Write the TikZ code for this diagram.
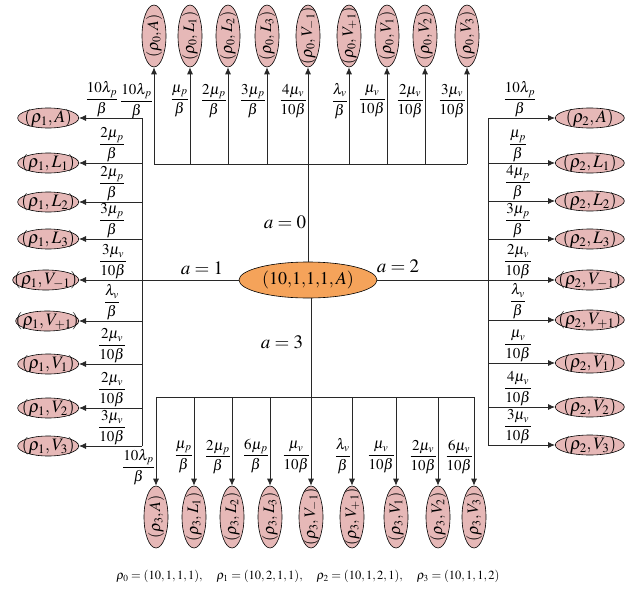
\documentclass[tikz,border=0pt]{standalone}
\usepackage{amsmath}
\usepackage{mathptmx}
\usetikzlibrary{arrows.meta,shapes.geometric}
\definecolor{pinkfill}{RGB}{230,184,183}
\definecolor{orangefill}{RGB}{245,163,90}
\definecolor{linec}{RGB}{40,40,40}
\newcommand{\ztext}[1]{\makebox[0pt]{\raisebox{\dimexpr(\depth-\height)/2\relax}[0pt][0pt]{#1}}}
\newcommand{\vlab}[1]{\ztext{\rotatebox{90}{$#1$}}}
\newcommand{\hlab}[1]{\ztext{$#1$}}
\begin{document}
\begin{tikzpicture}[x=1pt,y=-1pt,
  st/.style={ellipse,draw=black,line width=0.6pt,fill=pinkfill,inner sep=0pt},
  vst/.style={st,minimum width=24pt,minimum height=62pt,font=\fontsize{16}{18}\selectfont},
  hst/.style={st,minimum height=20pt,font=\fontsize{17.5}{20}\selectfont},
  link/.style={draw=linec,line width=0.8pt},
  arr/.style={link,-{Latex[length=7pt,width=6pt]}},
  fr/.style={inner sep=1pt,font=\fontsize{15}{17}\selectfont},
  alab/.style={inner sep=0pt,font=\fontsize{19}{21}\selectfont}
]
\useasboundingbox (0,0) rectangle (635,589);

% centre
\node[ellipse,draw=black,line width=0.6pt,fill=orangefill,inner sep=0pt,
      minimum width=138pt,minimum height=36pt,font=\fontsize{18}{20}\selectfont]
      (c) at (308,280) {\hlab{(10{,}1{,}1{,}1,A)}};

% top
\foreach \x/\n/\s/\f in {
  154/t1/A/{\dfrac{10\lambda_p}{\beta}},
  190/t2/L_1/{\dfrac{\mu_p}{\beta}},
  228/t3/L_2/{\dfrac{2\mu_p}{\beta}},
  267/t4/L_3/{\dfrac{3\mu_p}{\beta}},
  308/t5/V_{-1}/{\dfrac{4\mu_v}{10\beta}},
  349/t6/V_{+1}/{\dfrac{\lambda_v}{\beta}},
  387/t7/V_1/{\dfrac{\mu_v}{10\beta}},
  425/t8/V_2/{\dfrac{2\mu_v}{10\beta}},
  467/t9/V_3/{\dfrac{3\mu_v}{10\beta}}}{
  \node[vst] (\n) at (\x,36) {\vlab{(\rho_0,\s)}};
  \coordinate (\n b) at (\x,164);
  \draw[arr] (\n b) -- (\n);
  \node[fr,anchor=east] (l\n) at (\x,101) {$\f$};
}
\draw[link] (t1b) -- (t9b);
\draw[link] (c.north) -- (t5b);

% left
\foreach \y/\n/\s/\w/\lx/\f in {
  118/l1/A/61/102/{\dfrac{10\lambda_p}{\beta}},
  163/l2/L_1/61/112/{\dfrac{2\mu_p}{\beta}},
  202/l3/L_2/61/112/{\dfrac{2\mu_p}{\beta}},
  239/l4/L_3/61/112/{\dfrac{3\mu_p}{\beta}},
  280/l5/V_{-1}/66/113/{\dfrac{3\mu_v}{10\beta}},
  321/l6/V_{+1}/63/112/{\dfrac{\lambda_v}{\beta}},
  364/l7/V_1/61/112/{\dfrac{2\mu_v}{10\beta}},
  408/l8/V_2/61/112/{\dfrac{2\mu_v}{10\beta}},
  446/l9/V_3/61/112/{\dfrac{3\mu_v}{10\beta}}}{
  \node[hst,minimum width=\w pt,anchor=east] (\n) at (79,\y) {\hlab{(\rho_1,\s)}};
  \coordinate (\n b) at (142,\y);
  \node[fr,anchor=south] (l\n) at (\lx,\y) {$\f$};
}
\foreach \n in {l1,l2,l3,l4,l6,l7,l8,l9}{\draw[arr] (\n b) -- (\n);}
\draw[link] (l1b) -- (l9b);
\draw[arr] (c.west) -- (l5);

% right
\foreach \y/\n/\s/\lx/\f in {
  118/r1/A/520/{\dfrac{10\lambda_p}{\beta}},
  163/r2/L_1/518/{\dfrac{\mu_p}{\beta}},
  201/r3/L_2/518/{\dfrac{4\mu_p}{\beta}},
  239/r4/L_3/518/{\dfrac{3\mu_p}{\beta}},
  280/r5/V_{-1}/518/{\dfrac{2\mu_v}{10\beta}},
  320/r6/V_{+1}/518/{\dfrac{\lambda_v}{\beta}},
  363/r7/V_1/518/{\dfrac{\mu_v}{10\beta}},
  407/r8/V_2/518/{\dfrac{4\mu_v}{10\beta}},
  445/r9/V_3/518/{\dfrac{3\mu_v}{10\beta}}}{
  \node[hst,minimum width=69pt,anchor=west] (\n) at (555,\y) {\hlab{(\rho_2,\s)}};
  \coordinate (\n b) at (488,\y);
  \node[fr,anchor=south] (l\n) at (\lx,\y) {$\f$};
}
\foreach \n in {r1,r2,r3,r4,r6,r7,r8,r9}{\draw[arr] (\n b) -- (\n);}
\draw[link] (r1b) -- (r9b);
\draw[arr] (c.east) -- (r5);

% bottom
\foreach \x/\n/\s/\ly/\f in {
  156/b1/A/467/{\dfrac{10\lambda_p}{\beta}},
  194/b2/L_1/457/{\dfrac{\mu_p}{\beta}},
  232/b3/L_2/457/{\dfrac{2\mu_p}{\beta}},
  270/b4/L_3/456/{\dfrac{6\mu_p}{\beta}},
  311/b5/V_{-1}/457/{\dfrac{\mu_v}{10\beta}},
  352/b6/V_{+1}/456/{\dfrac{\lambda_v}{\beta}},
  396/b7/V_1/457/{\dfrac{\mu_v}{10\beta}},
  438/b8/V_2/457/{\dfrac{2\mu_v}{10\beta}},
  474/b9/V_3/457/{\dfrac{6\mu_v}{10\beta}}}{
  \node[vst] (\n) at (\x,517) {\vlab{(\rho_3,\s)}};
  \coordinate (\n b) at (\x,397);
  \draw[arr] (\n b) -- (\n);
  \node[fr,anchor=east] (l\n) at (\x,\ly) {$\f$};
}
\draw[link] (b1b) -- (b9b);
\draw[link] (c.south -| b5b) -- (b5b);

% action labels
\node[alab] (a0) at (285,222) {$a=0$};
\node[alab] (a1) at (202,268) {$a=1$};
\node[alab] (a2) at (398,266) {$a=2$};
\node[alab] (a3) at (282,342) {$a=3$};

% legend
\node[inner sep=0pt,font=\fontsize{12.5}{15}\selectfont] (leg) at (308,576)
  {$\rho_0=(10,1,1,1),\quad \rho_1=(10,2,1,1),\quad \rho_2=(10,1,2,1),\quad \rho_3=(10,1,1,2)$};
\end{tikzpicture}
\end{document}
